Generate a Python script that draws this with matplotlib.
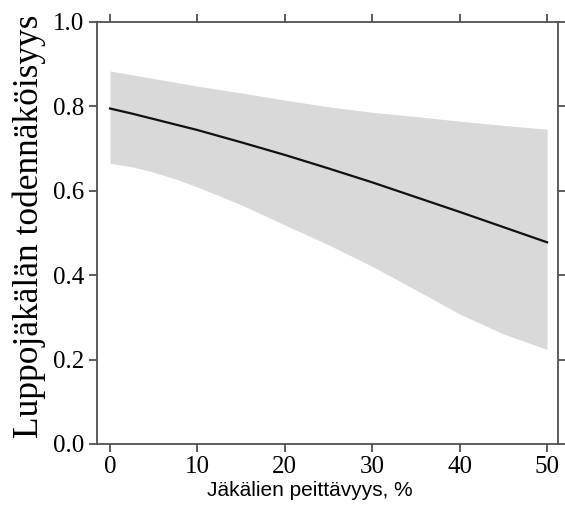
import matplotlib
matplotlib.use("Agg")
import matplotlib.pyplot as plt

# Data
cover = [0, 2.5, 5, 7.5, 10, 15, 20, 25, 30, 35, 40, 45, 50]
prob = [0.795, 0.783, 0.770, 0.757, 0.744, 0.715, 0.685, 0.653, 0.620, 0.585, 0.550, 0.514, 0.478]
upper = [0.884, 0.875, 0.866, 0.857, 0.848, 0.832, 0.815, 0.799, 0.786, 0.776, 0.765, 0.755, 0.746]
lower = [0.665, 0.657, 0.644, 0.628, 0.609, 0.567, 0.519, 0.472, 0.421, 0.365, 0.308, 0.261, 0.224]
xticks = [0, 10, 20, 30, 40, 50]
yticks = [0.0, 0.2, 0.4, 0.6, 0.8, 1.0]
ytick_labels = ["0.0", "0.2", "0.4", "0.6", "0.8", "1.0"]
xlabel = "Jäkälien peittävyys, %"
ylabel = "Luppojäkälän todennäköisyys"

W, H = 565, 515
fig = plt.figure(figsize=(W / 100, H / 100), dpi=100)
ax = fig.add_axes([97 / W, 1 - 444 / H, (557.7 - 97) / W, (444 - 22) / H])

ax.fill_between(cover, lower, upper, color="#d9d9d9", linewidth=0)
ax.plot(cover, prob, color="#111111", linewidth=1.6)

ax.set_xlim(-1.49, 51.22)
ax.set_ylim(0, 1)

spine_col = "#505050"
for s in ax.spines.values():
    s.set_color(spine_col)
    s.set_linewidth(1.3)

serif = ["Liberation Serif", "DejaVu Serif"]
ax.set_xticks(xticks)
ax.set_xticklabels([str(t) for t in xticks], family=serif, fontsize=18)
ax.set_yticks(yticks)
ax.set_yticklabels(ytick_labels, family=serif, fontsize=18)
ax.tick_params(axis="both", direction="out", length=5.5, width=1.3, color=spine_col,
               top=True, right=True, labeltop=False, labelright=False, pad=3)
ax.tick_params(axis="y", pad=4)

fig.text(310 / W, 1 - 490 / H, xlabel, family=["Liberation Sans", "DejaVu Sans"],
         fontsize=15, ha="center", va="center")
fig.text(29 / W, 1 - 226 / H, ylabel, family=serif, fontsize=25.5,
         rotation=90, ha="center", va="center")

fig.savefig("out.png", dpi=100)
